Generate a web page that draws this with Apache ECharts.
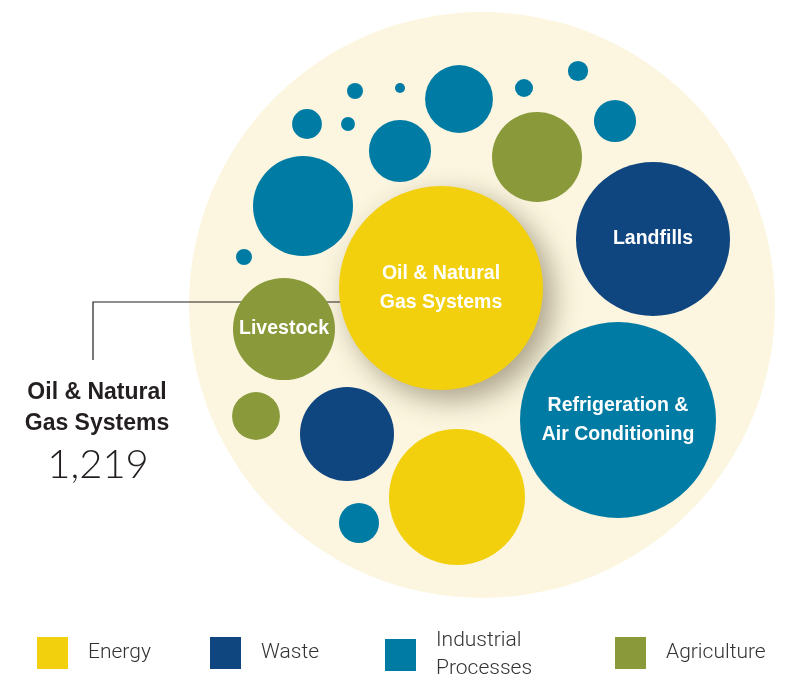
<!DOCTYPE html>
<html>
<head>
<meta charset="utf-8">
<script src="https://cdn.jsdelivr.net/npm/echarts@6/dist/echarts.min.js"></script>
<style>
    html, body { margin: 0; padding: 0; background: #fff; }
    #chart { width: 787px; height: 680px; }
</style>
</head>
<body>
<div id="chart"></div>
<script>
// 气泡数据（面积与数值成正比，数值读自图片）
const categories = ['Energy', 'Waste', 'Industrial Processes', 'Agriculture']
const colors = ['#F2D00E', '#0F4680', '#007BA4', '#8A9A3A']

const bubbleNames = [
    'Oil & Natural\nGas Systems', 'Energy 2',
    'Landfills', 'Waste 2',
    'Refrigeration &\nAir Conditioning', 'IP 2', 'IP 3', 'IP 4', 'IP 5', 'IP 6', 'IP 7',
    'IP 8', 'IP 9', 'IP 10', 'IP 11', 'IP 12', 'IP 13',
    'Livestock', 'Agri 2', 'Agri 3'
]
const bubbleGroup = [0, 0, 1, 1, 2, 2, 2, 2, 2, 2, 2, 2, 2, 2, 2, 2, 2, 3, 3, 3]
const bubbleX = [441, 457, 653, 347, 618, 303, 459, 400, 615, 359, 307, 578, 524, 355, 244, 348, 400, 284, 537, 256]
const bubbleY = [288, 497, 239, 434, 420, 206, 99, 151, 121, 523, 124, 71, 88, 91, 257, 124, 88, 329, 157, 416]
const bubbleValues = [1219, 542, 695, 259, 1125, 293, 135, 113, 52, 47, 26, 12, 9.5, 7.5, 7.5, 5.7, 2.9, 305, 237, 67]
const labelled = ['Oil & Natural\nGas Systems', 'Landfills', 'Refrigeration &\nAir Conditioning', 'Livestock']

const calloutName = 'Oil & Natural\nGas Systems'
const calloutValue = '1,219'

const labelFont = '"Liberation Sans", Arial, sans-serif'

const myChart = echarts.init(document.getElementById('chart'))

const series = categories.map((cat, ci) => {
    const data = []
    bubbleNames.forEach((name, i) => {
        if (bubbleGroup[i] !== ci) return
        const item = {
            name: name,
            value: [bubbleX[i], bubbleY[i], bubbleValues[i]],
            label: { show: labelled.indexOf(name) >= 0 }
        }
        // 中间的大气泡带阴影
        if (name === calloutName) {
            item.itemStyle = {
                shadowBlur: 28,
                shadowColor: 'rgba(70, 60, 30, 0.45)',
                shadowOffsetX: 10,
                shadowOffsetY: 10
            }
        }
        data.push(item)
    })
    return {
        name: cat,
        type: 'scatter',
        data: data,
        symbolSize: v => 2 * 102 * Math.sqrt(v[2] / 1219),
        itemStyle: { color: colors[ci], opacity: 1 },
        label: {
            position: 'inside',
            formatter: p => p.name,
            color: '#fff',
            fontFamily: labelFont,
            fontWeight: 'bold',
            fontSize: 19.5,
            lineHeight: 29
        },
        emphasis: { disabled: true },
        silent: true
    }
})

const legendLeft = [37, 210, 385, 615]
const legends = categories.map((cat, i) => ({
    data: [cat],
    left: legendLeft[i],
    top: cat === 'Industrial Processes' ? 627 : 637,
    padding: 0,
    icon: 'rect',
    itemWidth: 31,
    itemHeight: 32,
    selectedMode: false,
    formatter: n => n === 'Industrial Processes' ? 'Industrial\nProcesses' : n,
    textStyle: {
        color: '#333',
        fontFamily: 'Roboto',
        fontWeight: 300,
        fontSize: 21,
        lineHeight: 28,
        padding: [0, 0, 0, 15]
    }
}))

const options = {
    animation: false,
    grid: { left: 0, top: 0, right: 0, bottom: 0 },
    xAxis: { type: 'value', min: 0, max: 787, show: false },
    yAxis: { type: 'value', min: 0, max: 680, inverse: true, show: false },
    legend: legends,
    graphic: [
        {
            type: 'circle',
            shape: { cx: 482, cy: 305, r: 293 },
            style: { fill: '#FCF6E0' },
            z: 0
        },
        {
            type: 'polyline',
            shape: { points: [[93, 360], [93, 302], [345, 302]] },
            style: { stroke: '#231F20', lineWidth: 1.2, fill: null },
            z: 1
        },
        {
            type: 'text',
            x: 97,
            y: 377,
            style: {
                text: calloutName,
                fill: '#231F20',
                font: 'bold 23px "Liberation Sans", Arial, sans-serif',
                lineHeight: 31,
                align: 'center'
            },
            z: 1
        },
        {
            type: 'text',
            x: 98,
            y: 445,
            style: {
                text: calloutValue,
                fill: '#231F20',
                font: '300 40px Lato, sans-serif',
                align: 'center'
            },
            z: 1
        }
    ],
    series: series
}
myChart.setOption(options)
</script>
</body>
</html>
